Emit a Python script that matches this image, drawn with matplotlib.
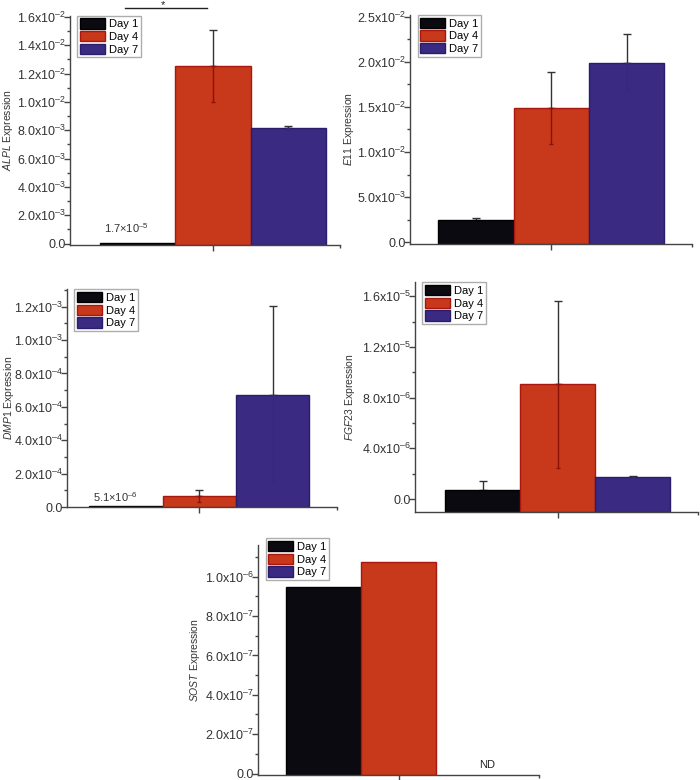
#!/bin/env python3

import numpy as np
import matplotlib.pyplot as plt
from matplotlib.patches import Patch
from matplotlib.ticker import AutoMinorLocator, FixedLocator

plt.rcParams['font.family'] = ['Liberation Sans', 'DejaVu Sans']
plt.rcParams['mathtext.fontset'] = 'custom'
plt.rcParams['mathtext.rm'] = 'Liberation Sans'
plt.rcParams['mathtext.it'] = 'Liberation Sans:italic'
plt.rcParams['font.size'] = 9

days = ['Day 1', 'Day 4', 'Day 7']
colors = ['#0b0a10', '#c8381a', '#3a2a82']
edges = ['#000000', '#a8180e', '#2a1e6a']
low_colors = ['#000000', '#8a1208', '#35297a']

genes = ['ALPL', 'E11', 'DMP1', 'FGF23', 'SOST']

alpl_vals = [1.7e-5, 1.256e-2, 8.15e-3]
alpl_err = [0.0, 2.55e-3, 1.5e-4]

e11_vals = [2.42e-3, 1.489e-2, 1.988e-2]
e11_err = [2.5e-4, 3.95e-3, 3.15e-3]

dmp1_vals = [5.1e-6, 6.6e-5, 6.74e-4]
dmp1_err = [0.0, 3.8e-5, 5.32e-4]

fgf23_vals = [7.3e-7, 9.05e-6, 1.75e-6]
fgf23_err = [7.0e-7, 6.6e-6, 8e-8]

sost_vals = [9.49e-7, 1.077e-6, np.nan]
sost_err = [0.0, 0.0, 0.0]


def sci(m, e):
    return '%.1fx10$^{\u2013%d}$' % (m, e)


panels = [
    dict(vals=alpl_vals, err=alpl_err, ylim=(-1e-4, 1.61e-2),
         ticks=[0, 2e-3, 4e-3, 6e-3, 8e-3, 1e-2, 1.2e-2, 1.4e-2, 1.6e-2],
         labels=['0.0'] + [sci(v, 3) for v in [2, 4, 6, 8]]
                + [sci(v, 2) for v in [1.0, 1.2, 1.4, 1.6]],
         rect=[0.100, 0.686, 0.386, 0.294], xlim=(-1.9, 1.69), leg_y=1.0, lab_x=-0.202),
    dict(vals=e11_vals, err=e11_err, ylim=(-2e-4, 2.52e-2),
         ticks=[0, 5e-3, 1e-2, 1.5e-2, 2e-2, 2.5e-2],
         labels=['0.0', sci(5, 3)] + [sci(v, 2) for v in [1.0, 1.5, 2.0, 2.5]],
         rect=[0.586, 0.687, 0.403, 0.294], xlim=(-1.87, 1.87), leg_y=1.0, lab_x=-0.191),
    dict(vals=dmp1_vals, err=dmp1_err, ylim=(0, 1.304e-3),
         ticks=[0, 2e-4, 4e-4, 6e-4, 8e-4, 1e-3, 1.2e-3],
         labels=['0.0'] + [sci(v, 4) for v in [2, 4, 6, 8]]
                + [sci(v, 3) for v in [1.0, 1.2]],
         rect=[0.096, 0.350, 0.386, 0.279], xlim=(-1.8, 1.88), leg_y=1.0, lab_x=-0.191),
    dict(vals=fgf23_vals, err=fgf23_err, ylim=(-1.0e-6, 1.71e-5),
         ticks=[0, 4e-6, 8e-6, 1.2e-5, 1.6e-5],
         labels=['0.0', sci(4, 6), sci(8, 6), sci(1.2, 5), sci(1.6, 5)],
         rect=[0.593, 0.344, 0.404, 0.294], xlim=(-1.9, 1.87), leg_y=1.0, lab_x=-0.205),
    dict(vals=sost_vals, err=sost_err, ylim=(-9e-9, 1.16e-6),
         ticks=[0, 2e-7, 4e-7, 6e-7, 8e-7, 1e-6],
         labels=['0.0'] + [sci(v, 7) for v in [2, 4, 6, 8]] + [sci(1, 6)],
         rect=[0.369, 0.006, 0.401, 0.295], xlim=(-1.87, 1.87), leg_y=1.03, lab_x=-0.199),
]


def main():
    fig = plt.figure(figsize=(7, 7.8), dpi=100)
    x = np.arange(len(days)) - 1

    for gene, p in zip(genes, panels):
        ax = fig.add_axes(p['rect'])
        vals = np.array(p['vals'])
        err = np.array(p['err'])
        base = min(p['ylim'][0], 0)
        for i in range(len(days)):
            if np.isnan(vals[i]):
                continue
            if err[i] > 0:
                ax.errorbar(x[i], vals[i], yerr=[[0], [err[i]]], color='#333333',
                            lw=1, capsize=3, capthick=1, zorder=1)
            ax.bar(x[i], vals[i] - base, bottom=base, width=1.0, color=colors[i],
                   edgecolor=edges[i], linewidth=1, zorder=2)
            if err[i] > 0 and i > 0:
                ax.errorbar(x[i], vals[i], yerr=[[err[i]], [0]], color=low_colors[i],
                            lw=1, capsize=1.5, capthick=1, zorder=3)

        ax.set_xlim(*p['xlim'])
        ax.set_ylim(*p['ylim'])
        ax.set_yticks(p['ticks'])
        ax.set_yticklabels(p['labels'])
        ax.yaxis.set_minor_locator(AutoMinorLocator(2))
        ax.set_xticks([0])
        ax.set_xticklabels([''])
        ax.xaxis.set_minor_locator(FixedLocator([p['xlim'][1]]))
        for s in ['top', 'right']:
            ax.spines[s].set_visible(False)
        for s in ['left', 'bottom']:
            ax.spines[s].set_color('#444444')
            ax.spines[s].set_linewidth(1)
        ax.tick_params(axis='both', which='major', length=4, width=1, pad=-1,
                       color='#444444', labelcolor='#333333', labelsize=9)
        ax.tick_params(axis='both', which='minor', length=2.5, width=1, color='#444444')
        ax.set_ylabel(r'$\it{%s}$ Expression' % gene, color='#333333', fontsize=7.5)
        ax.yaxis.set_label_coords(p['lab_x'], 0.5)

        handles = [Patch(facecolor=c, edgecolor=e, label=d)
                   for c, e, d in zip(colors, edges, days)]
        leg = ax.legend(handles=handles, loc='upper left', fancybox=False,
                        frameon=True, fontsize=8, handlelength=2.25, handleheight=1.05,
                        labelspacing=0.15, borderpad=0.25, borderaxespad=0.0,
                        handletextpad=0.35, bbox_to_anchor=(0.026, p['leg_y']))
        leg.get_frame().set_edgecolor('#999999')
        leg.get_frame().set_linewidth(1)

        if gene == 'ALPL':
            ax.text(x[0] - 0.15, 6e-4, '1.7\u00d710$^{\u20135}$', ha='center',
                    va='bottom', color='#333333', fontsize=8)
            tr = ax.get_xaxis_transform()
            ax.plot([-1.17, -0.08], [1.035, 1.035], color='#222222', lw=1,
                    transform=tr, clip_on=False)
            ax.text(-0.66, 1.068, '*', ha='center', va='top', transform=tr,
                    fontsize=8, color='#222222')
        if gene == 'DMP1':
            ax.text(x[0] - 0.15, 1.5e-5, '5.1\u00d710$^{\u20136}$', ha='center',
                    va='bottom', color='#333333', fontsize=8)
        if gene == 'SOST':
            ax.text(x[2] + 0.18, 0.02e-6, 'ND', ha='center', va='bottom',
                    color='#222222', fontsize=8)

    fig.savefig('out.png', dpi=100)


if __name__ == '__main__':
    main()
